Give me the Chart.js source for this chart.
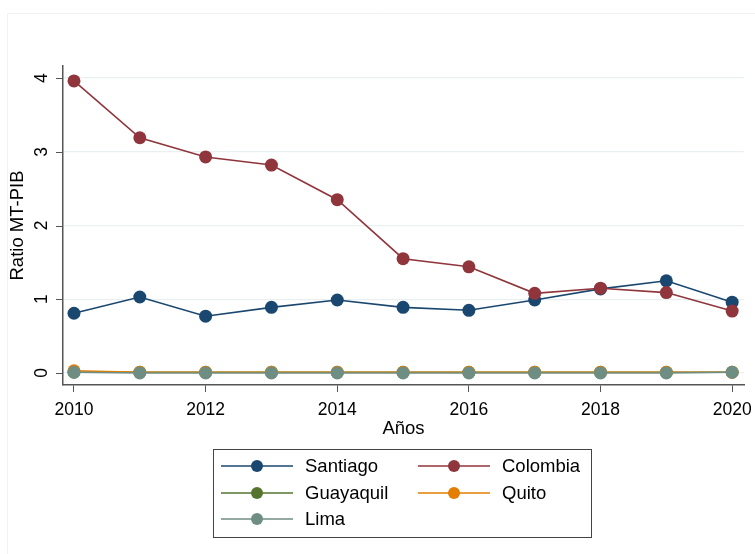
<!DOCTYPE html>
<html>
<head>
<meta charset="utf-8">
<script src="https://cdn.jsdelivr.net/npm/chart.js@4"></script>
<style>
  html, body { margin: 0; padding: 0; background: #fff; }
  #wrap { width: 755px; height: 554px; position: relative; }
</style>
</head>
<body>
<div id="wrap"><canvas id="ratioChart"></canvas></div>
<script>
const years = [2010, 2011, 2012, 2013, 2014, 2015, 2016, 2017, 2018, 2019, 2020];
const santiago = [0.81, 1.03, 0.77, 0.89, 0.99, 0.89, 0.85, 0.99, 1.14, 1.25, 0.96];
const colombia = [3.96, 3.19, 2.93, 2.82, 2.35, 1.55, 1.44, 1.08, 1.15, 1.09, 0.84];
const guayaquil = [0.01, 0.01, 0.01, 0.01, 0.01, 0.01, 0.01, 0.01, 0.01, 0.01, 0.01];
const quito = [0.03, 0.01, 0.01, 0.01, 0.01, 0.01, 0.01, 0.01, 0.01, 0.01, 0.01];
const lima = [0.01, 0.00, 0.00, 0.00, 0.00, 0.00, 0.00, 0.00, 0.00, 0.00, 0.01];
const yTicks = [0, 1, 2, 3, 4];
const xTicks = [2010, 2012, 2014, 2016, 2018, 2020];

const series = [
  { label: "Santiago", values: santiago, color: "#1a476f" },
  { label: "Colombia", values: colombia, color: "#90353b" },
  { label: "Guayaquil", values: guayaquil, color: "#55752f" },
  { label: "Quito", values: quito, color: "#e37e00" },
  { label: "Lima", values: lima, color: "#6e8e84" },
];

const FONT = "'Liberation Sans', Arial, sans-serif";

// marco exterior tenue + ticks rotados del eje y + leyenda estilo Stata
const stataExtras = {
  id: "stataExtras",
  beforeDraw(chart) {
    const c = chart.ctx;
    c.save();
    c.strokeStyle = "#f2f2f2";
    c.lineWidth = 1;
    c.beginPath();
    c.moveTo(7.5, 554);
    c.lineTo(7.5, 13.5);
    c.lineTo(755, 13.5);
    c.stroke();
    c.restore();
  },
  afterDraw(chart) {
    const c = chart.ctx;
    const y = chart.scales.y;
    c.save();
    c.fillStyle = "#000";
    c.font = "17.5px " + FONT;
    c.textAlign = "center";
    c.textBaseline = "middle";
    yTicks.forEach((v) => {
      const py = y.getPixelForValue(v);
      c.save();
      c.translate(42, py);
      c.rotate(-Math.PI / 2);
      c.fillText(String(v), 0, 0);
      c.restore();
    });

    // leyenda
    const bx = 213.5, by = 449.5, bw = 378, bh = 88;
    c.strokeStyle = "#444";
    c.lineWidth = 1;
    c.strokeRect(bx, by, bw, bh);
    const cols = [221, 418];
    const rows = [466, 493, 519];
    c.textAlign = "left";
    c.font = "18.5px " + FONT;
    series.forEach((s, i) => {
      const x0 = cols[i % 2];
      const yy = rows[Math.floor(i / 2)];
      c.strokeStyle = s.color;
      c.lineWidth = 1.5;
      c.beginPath();
      c.moveTo(x0, yy);
      c.lineTo(x0 + 72, yy);
      c.stroke();
      c.fillStyle = s.color;
      c.beginPath();
      c.arc(x0 + 36, yy, 6, 0, Math.PI * 2);
      c.fill();
      c.fillStyle = "#000";
      c.fillText(s.label, x0 + 84, yy + 1);
    });
    c.restore();
  },
};

const ctx = document.getElementById("ratioChart").getContext("2d");
new Chart(ctx, {
  type: "line",
  data: {
    datasets: series.slice().reverse().map((s) => ({
      label: s.label,
      data: years.map((yr, i) => ({ x: yr, y: s.values[i] })),
      borderColor: s.color,
      backgroundColor: s.color,
      borderWidth: 1.6,
      pointRadius: 6.5,
      pointHoverRadius: 6.5,
      pointBorderWidth: 0,
      tension: 0,
    })),
  },
  options: {
    responsive: true,
    maintainAspectRatio: false,
    animation: false,
    layout: { padding: { left: 0, right: 11, top: 66, bottom: 114 } },
    plugins: {
      legend: { display: false },
      tooltip: { enabled: false },
    },
    scales: {
      x: {
        type: "linear",
        min: 2009.833,
        max: 2020.18,
        afterBuildTicks: (axis) => { axis.ticks = xTicks.map((v) => ({ value: v })); },
        afterFit: (axis) => {
          axis.height = 55;
          axis.paddingLeft = 0;
          axis.paddingRight = 0;
        },
        grid: {
          display: true,
          drawOnChartArea: false,
          drawTicks: true,
          tickLength: 7,
          color: "#555",
          lineWidth: 1,
        },
        border: { display: true, color: "#555", width: 1.5 },
        ticks: {
          color: "#000",
          font: { family: FONT, size: 17.5 },
          padding: 8,
          maxRotation: 0,
          callback: (v) => String(v),
        },
        title: {
          display: true,
          text: "Años",
          color: "#000",
          font: { family: FONT, size: 18.5 },
          padding: { top: 0, bottom: 0 },
        },
      },
      y: {
        min: -0.163,
        max: 4.163,
        afterBuildTicks: (axis) => { axis.ticks = yTicks.map((v) => ({ value: v })); },
        afterFit: (axis) => { axis.width = 63; },
        grid: {
          color: "#e8f0f1",
          lineWidth: 1.3,
          drawTicks: false,
        },
        border: { display: true, color: "#555", width: 1.5 },
        ticks: { display: false },
        title: {
          display: true,
          text: "Ratio MT-PIB",
          color: "#000",
          font: { family: FONT, size: 18.5 },
          padding: { top: 7, bottom: 0 },
        },
      },
    },
  },
  plugins: [stataExtras, {
    id: "yTickMarks",
    afterDatasetsDraw(chart) {
      const c = chart.ctx;
      const y = chart.scales.y;
      const left = chart.chartArea.left;
      c.save();
      c.strokeStyle = "#555";
      c.lineWidth = 1;
      yTicks.forEach((v) => {
        const py = Math.round(y.getPixelForValue(v)) + 0.5;
        c.beginPath();
        c.moveTo(left - 7, py);
        c.lineTo(left, py);
        c.stroke();
      });
      c.restore();
    },
  }],
});
</script>
</body>
</html>
